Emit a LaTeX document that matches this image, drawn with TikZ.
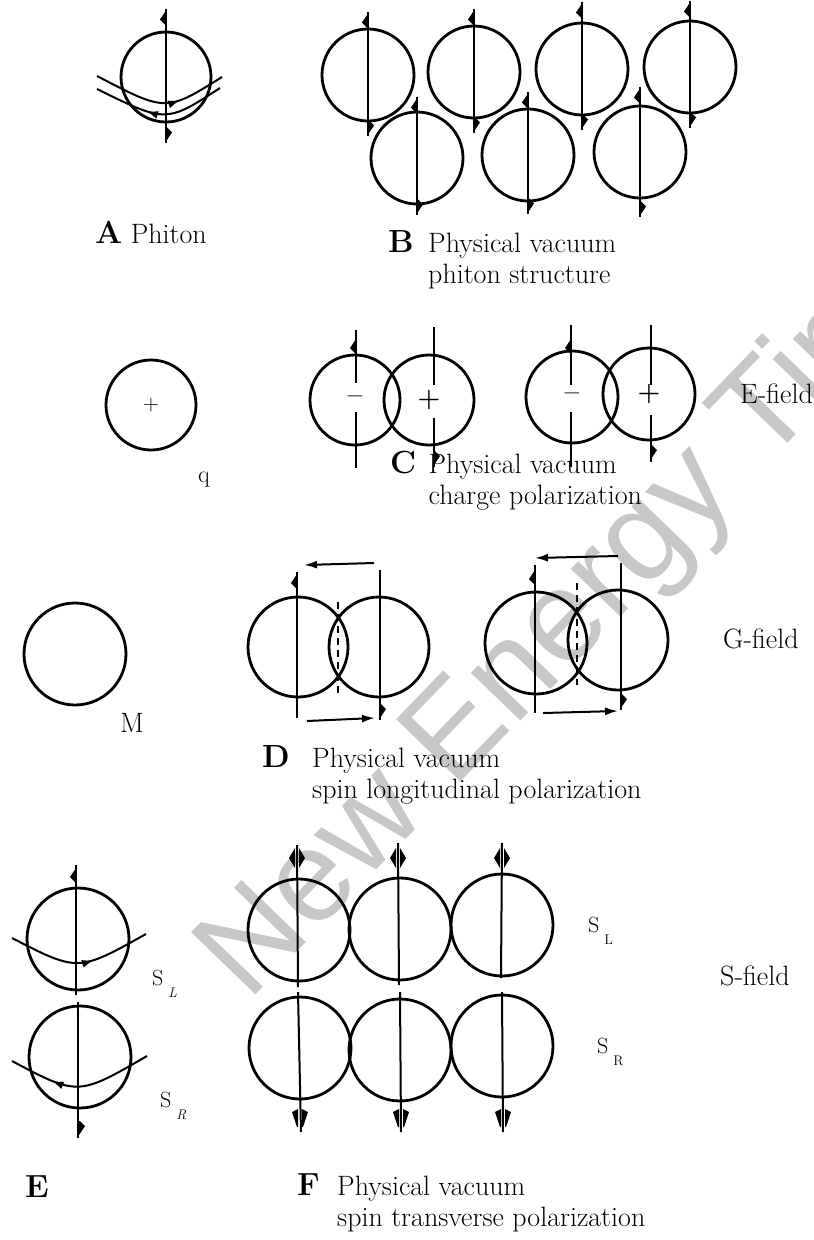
\documentclass[tikz,border=0pt]{standalone}
\usepackage{fontspec}
\newfontfamily\markfont{Liberation Sans}
\usetikzlibrary{positioning, calc, arrows.meta, decorations.markings}

% spin axis through a ball, flag on top (left) and bottom (right)
\newcommand{\spinaxis}[3]{%
  \draw[axis] ([yshift=#2]#1.north) -- ([yshift=-#3]#1.south);
  \pic at ([yshift=#2]#1.north) {flagup};
  \pic at ([yshift=-#3]#1.south) {flagdn};}

\tikzset{
  flagup/.pic={\fill (0,2) -- (-6,11) -- (-1,16) -- (0,16) -- cycle;},
  flagdn/.pic={\fill (0,-2) -- (6,-11) -- (1,-16) -- (0,-16) -- cycle;},
  flagtwin/.pic={\fill (-2,0) -- (-8,10) -- (-2,20) -- cycle;
                 \fill (2,0) -- (8,10) -- (2,20) -- cycle;},
  flagtwindn/.pic={\fill (-2,0) -- (-8,3) -- (-3,18) -- (-2,18) -- cycle;
                   \fill (2,0) -- (8,3) -- (3,18) -- (2,18) -- cycle;},
}

\begin{document}
\begin{tikzpicture}[x=1pt, y=-1pt,
    ball/.style={circle, draw, line width=2.8pt, inner sep=0pt, minimum size=#1},
    ball/.default=92pt,
    axis/.style={line width=2pt},
    orbitR/.style={line width=2pt, postaction={decorate}, decoration={markings,
        mark=at position #1 with {\arrow{Latex[length=12pt,width=8pt]}}}},
    orbitL/.style={line width=2pt, postaction={decorate}, decoration={markings,
        mark=at position #1 with {\arrowreversed{Latex[length=12pt,width=8pt]}}}},
    push/.style={line width=2pt, -{Latex[length=13pt,width=8pt]}},
    seam/.style={line width=1.6pt, dash pattern=on 7pt off 5pt},
    lbl/.style={font=\fontsize{28}{33}\selectfont, inner sep=0pt, anchor=base west},
    tag/.style={font=\fontsize{32}{36}\selectfont\bfseries, inner sep=0pt, anchor=base west},
    sign/.style={font=\fontsize{26}{26}\selectfont\bfseries, inner sep=0pt},
    spin/.style={font=\fontsize{22}{22}\selectfont, inner sep=0pt, anchor=base west},
  ]
  \useasboundingbox (0,0) rectangle (814,1240);
  \clip (0,0) rectangle (814,1240);
  \fill[white] (0,0) rectangle (814,1240);

  % watermark
  \node[font=\fontsize{130}{130}\markfont, text=black!22, rotate=46,
        anchor=base west, inner sep=0pt] (mark) at (248,1003) {New Energy Times};

  % A: phiton
  \node[ball=90pt] (phi) at (166,77) {};
  \spinaxis{phi}{22pt}{20pt}
  \draw[orbitR=0.65] (97,76) .. controls (166,112) .. (222,77);
  \draw[orbitL=0.4] (97,89) .. controls (166,123) .. (220,88);
  \node[tag] (tagA) at (95,243) {A};
  \node[lbl] (txtA) at ([xshift=8pt]tagA.base east) {Phiton};

  % B: phiton structure
  \node[ball] (b1) at (368,75) {};
  \node[ball] (b2) at (474,72) {};
  \node[ball] (b3) at (582,69) {};
  \node[ball] (b4) at (690,67) {};
  \node[ball] (b5) at (417,158) {};
  \node[ball] (b6) at (528,155) {};
  \node[ball] (b7) at (640,152) {};
  \spinaxis{b1}{16pt}{14pt}
  \spinaxis{b2}{16pt}{14pt}
  \spinaxis{b3}{20pt}{14pt}
  \spinaxis{b4}{19pt}{14pt}
  \spinaxis{b5}{14pt}{10pt}
  \spinaxis{b6}{16pt}{12pt}
  \spinaxis{b7}{18pt}{18pt}
  \node[tag] (tagB) at (388,252) {B};
  \node[lbl] (txtB) at ([xshift=14pt]tagB.base east) {Physical vacuum};
  \node[lbl] (txtB2) at ([yshift=-31pt]txtB.base west) {phiton structure};

  % C: charge polarization
  \node[ball=90pt] (q) at (151,405) {};
  \node[sign, font=\fontsize{22}{22}\selectfont] at (q) {+};
  \node[lbl, font=\fontsize{24}{24}\selectfont] (txtq) at (198,482) {q};

  \node[ball=90pt] (c1m) at (355,400) {};
  \node[ball=90pt] (c1p) at (429,400) {};
  \node[sign] at (c1m) {--};
  \node[sign] at (c1p) {+};
  \draw[axis] (356,330) -- (356,383) (356,412) -- (356,468);
  \draw[axis] (434,327) -- (434,385) (434,418) -- (434,467);
  \pic at (356,337) {flagup};
  \pic at (434,467) {flagdn};

  \node[ball] (c2m) at (572,397) {};
  \node[ball] (c2p) at (649,394) {};
  \node[sign] at (c2m) {--};
  \node[sign] at (c2p) {+};
  \draw[axis] (571,325) -- (571,385) (571,412) -- (571,467);
  \draw[axis] (651,325) -- (651,385) (651,415) -- (651,462);
  \pic at (571,337) {flagup};
  \pic at (651,461) {flagdn};
  \node[lbl] (efield) at (740,403) {E-field};

  \node[tag] (tagC) at (390,473) {C};
  \node[lbl] (txtC) at ([xshift=12pt]tagC.base east) {Physical vacuum};
  \node[lbl] (txtC2) at ([yshift=-31pt]txtC.base west) {charge polarization};

  % D: spin longitudinal polarization
  \node[ball=102pt] (mass) at (75,654) {};
  \node[lbl] (txtM) at (120,732) {M};

  \node[ball=100pt] (d1a) at (298,647) {};
  \node[ball=100pt] (d1b) at (379,647) {};
  \draw[axis] (297,572) -- (297,718);
  \draw[axis] (380,570) -- (380,720);
  \pic at (297,572) {flagup};
  \pic at (380,720) {flagdn};
  \draw[seam] (338,602) -- (338,693);
  \draw[push] (374,563) -- (304,565);
  \draw[push] (307,721) -- (375,718);

  \node[ball=102pt] (d2a) at (536,643) {};
  \node[ball=100pt] (d2b) at (618,640) {};
  \draw[axis] (535,565) -- (535,713);
  \draw[axis] (621,563) -- (621,710);
  \pic at (535,568) {flagup};
  \pic at (621,710) {flagdn};
  \draw[seam] (577,583) -- (577,685);
  \draw[push] (618,556) -- (535,558);
  \draw[push] (543,713) -- (618,711);
  \node[lbl] (gfield) at (723,648) {G-field};

  \node[tag] (tagD) at (262,767) {D};
  \node[lbl] (txtD) at (312,767) {Physical vacuum};
  \node[lbl] (txtD2) at ([yshift=-31pt]txtD.base west) {spin longitudinal polarization};

  % E: single spins
  \node[ball=102pt] (eL) at (78,939) {};
  \draw[axis] (76,865) -- (76,995);
  \pic at (76,866) {flagup};
  \draw[orbitR=0.6] (12,938) .. controls (78,972) .. (146,934);
  \node[spin] (sL) at (152,985) {S\hspace{5pt}\raisebox{-12pt}{\fontsize{14}{14}\selectfont\itshape L}};

  \node[ball=102pt] (eR) at (80,1057) {};
  \draw[axis] (78,1002) -- (78,1138);
  \pic at (79,1137) {flagdn};
  \draw[orbitL=0.3] (12,1061) .. controls (78,1096) .. (147,1056);
  \node[spin] (sR) at (160,1107) {S\hspace{5pt}\raisebox{-12pt}{\fontsize{14}{14}\selectfont\itshape R}};
  \node[tag] (tagE) at (25,1197) {E};

  % F: spin transverse polarization
  \node[ball=102pt] (f1) at (299,930) {};
  \node[ball=102pt] (f2) at (400,929) {};
  \node[ball=102pt] (f3) at (502,925) {};
  \node[ball=102pt] (f4) at (300,1048) {};
  \node[ball=102pt] (f5) at (400,1050) {};
  \node[ball=102pt] (f6) at (502,1046) {};
  \draw[axis] (297,845) -- (298,987);
  \draw[axis] (398,843) -- (399,985);
  \draw[axis] (502,843) -- (501,978);
  \draw[axis] (298,992) -- (301,1132);
  \draw[axis] (400,992) -- (401,1132);
  \draw[axis] (502,992) -- (503,1132);
  \pic at (297,848) {flagtwin};
  \pic at (398,848) {flagtwin};
  \pic at (502,848) {flagtwin};
  \pic at (300,1109) {flagtwindn};
  \pic at (401,1109) {flagtwindn};
  \pic at (503,1109) {flagtwindn};
  \node[spin] (fL) at (588,932) {S\hspace{5pt}\raisebox{-12pt}{\fontsize{14}{14}\selectfont L}};
  \node[spin] (fR) at (597,1053) {S\hspace{5pt}\raisebox{-12pt}{\fontsize{14}{14}\selectfont R}};
  \node[lbl] (sfield) at (720,985) {S-field};

  \node[tag] (tagF) at (297,1195) {F};
  \node[lbl] (txtF) at (337,1195) {Physical vacuum};
  \node[lbl] (txtF2) at ([yshift=-31pt]txtF.base west) {spin transverse polarization};
\end{tikzpicture}
\end{document}
